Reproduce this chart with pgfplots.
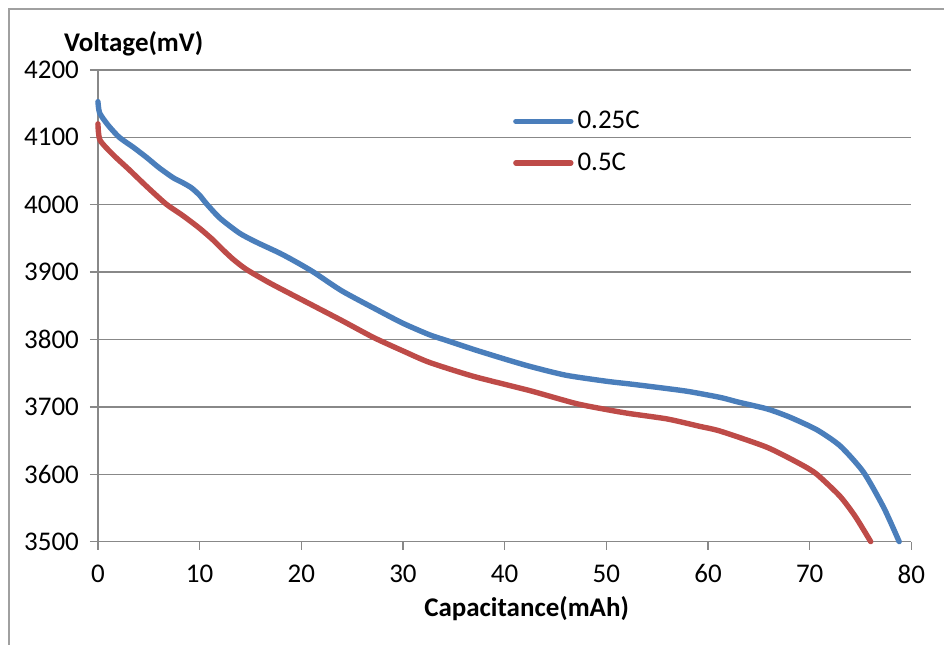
\documentclass[border=0pt]{standalone}
\usepackage{pgfplots}
\pgfplotsset{compat=1.18}
\usepackage{fontspec}
\setmainfont{Carlito}

\definecolor{blueline}{HTML}{4A7EBB}
\definecolor{redline}{HTML}{BE4B48}
\definecolor{gridgray}{HTML}{888888}
\definecolor{framegray}{HTML}{A0A0A0}
\newcommand\chartfont{\fontsize{13.5}{16}\selectfont}

\begin{document}
\begin{tikzpicture}
\begin{axis}[
    width=407pt, height=236pt, scale only axis,
    xmin=0, xmax=80, ymin=3500, ymax=4200,
    xtick={0,10,...,80}, ytick={3500,3600,...,4200},
    axis lines*=left,
    axis line style={gridgray, line width=0.7pt},
    tick align=outside, major tick length=4pt,
    tick style={gridgray, line width=0.7pt},
    ymajorgrids, grid style={gridgray, line width=0.7pt},
    /pgf/number format/assume math mode=true,
    /pgf/number format/1000 sep={},
    xticklabel style={font=\chartfont, yshift=-4pt},
    yticklabel style={font=\chartfont, xshift=-2pt},
    every axis y label/.style={at={(rel axis cs:0.044,1.055)}, anchor=center},
    every axis x label/.style={at={(rel axis cs:0.527,-0.142)}, anchor=center},
    ylabel={\chartfont\bfseries Voltage(mV)},
    xlabel={\chartfont\bfseries Capacitance(mAh)},
    legend style={draw=none, fill=none, at={(rel axis cs:0.51,0.922)}, anchor=north west,
        font=\chartfont, row sep=6.5pt, inner sep=0pt},
    legend cell align=left,
    legend image code/.code={\draw[#1, line cap=round] (0pt,0pt) -- (27.5pt,0pt);},
    clip=false,
]
% frame of the chart area
\draw[framegray, line width=0.7pt] (rel axis cs:-0.1093,-0.2182) -- (rel axis cs:-0.1093,1.1292) -- (rel axis cs:1.0405,1.1292);
\path (rel axis cs:-0.1204,-0.2182) rectangle (rel axis cs:1.0405,1.1483);

\addplot[blueline, line width=2.7pt, line cap=round, smooth, tension=0.4] coordinates {
(0,4153) (0.17,4136) (1,4118) (2.1,4100) (3.5,4085) (4.8,4070) (6,4055) (7.4,4040)
(8.3,4033) (9.2,4025) (10,4014) (10.7,4001) (12,3980) (13.9,3958) (15.5,3945) (17.9,3928)
(19.5,3915) (21.2,3900) (24,3872) (27.7,3842) (30,3824) (32.6,3807) (34.4,3798)
(37,3785) (40,3771) (42.5,3760) (46,3747) (50,3738) (52.3,3734) (55,3729)
(58,3723) (61.2,3714) (63,3707) (65.8,3697) (68,3685) (70.7,3666) (73,3642)
(75.3,3603) (77.3,3550) (78.8,3500)
};
\addlegendentry{0.25C}
\addplot[redline, line width=2.7pt, line cap=round, smooth, tension=0.4] coordinates {
(0,4120) (0.2,4096) (1.5,4074) (3,4053) (4.8,4027) (6.7,4001) (8.05,3987)
(8.7,3980) (10,3965) (11.3,3948) (12.3,3933) (13.3,3919) (14.6,3904) (17,3883)
(21.2,3850) (24,3828) (27.1,3803) (30,3783) (32.6,3766) (37,3745) (42.5,3724)
(47,3705) (50,3696) (52.3,3690) (56,3682) (59.2,3671) (61.2,3664) (65.8,3640)
(69.1,3615) (70.7,3600) (73,3567) (74.5,3537) (76,3500)
};
\addlegendentry{0.5C}
\end{axis}
\end{tikzpicture}
\end{document}
